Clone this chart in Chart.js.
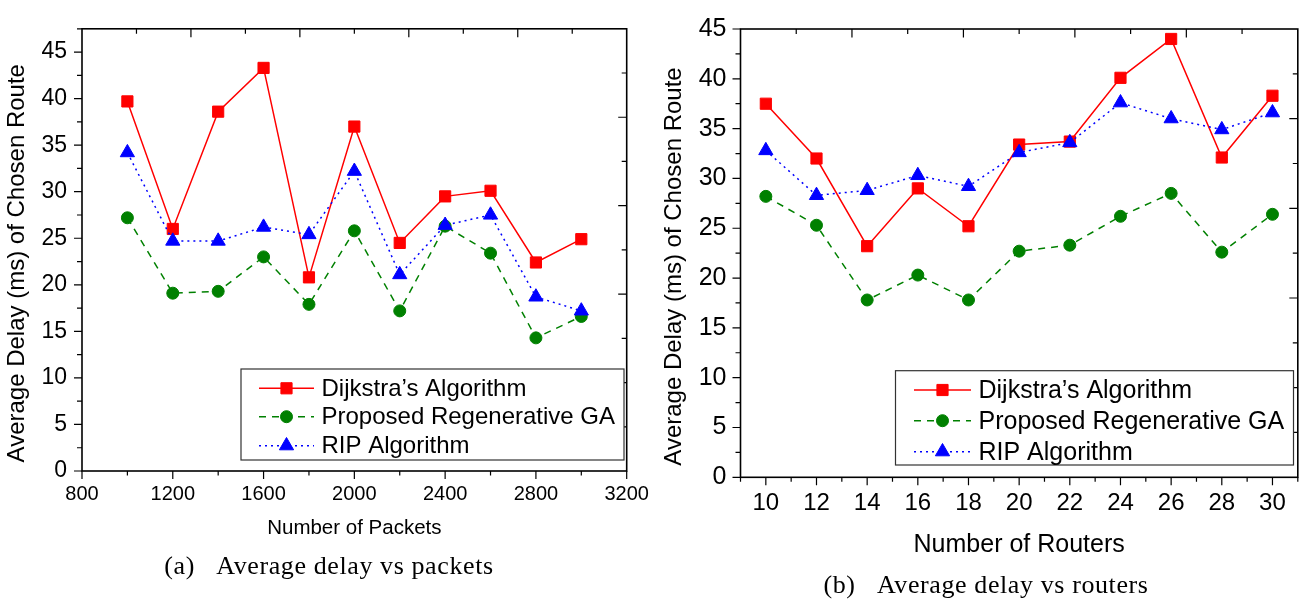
<!DOCTYPE html>
<html>
<head>
<meta charset="utf-8">
<script src="https://cdn.jsdelivr.net/npm/chart.js@4.4.0/dist/chart.umd.min.js"></script>
<style>
  body { margin: 0; background: #fff; width: 1307px; height: 600px; position: relative; overflow: hidden; }
  canvas { position: absolute; top: 0; }
  #chartA { left: 0; }
  #chartB { left: 650px; }
  .caption { position: absolute; font-family: "Liberation Serif", "DejaVu Serif", serif; font-size: 26px; color: #000;
             transform: translate(-50%, -50%); white-space: nowrap; letter-spacing: 0.6px; }
</style>
</head>
<body>
<canvas id="chartA" width="660" height="600"></canvas>
<canvas id="chartB" width="657" height="600"></canvas>
<div class="caption" style="left:329px; top:566px">(a)&nbsp;&nbsp;&nbsp;Average delay vs packets</div>
<div class="caption" style="left:986px; top:585px">(b)&nbsp;&nbsp;&nbsp;Average delay vs routers</div>
<script>
const seriesNames = ["Dijkstra\u2019s Algorithm", "Proposed Regenerative GA", "RIP Algorithm"];
const seriesColors = ["#ff0000", "#008000", "#0000ff"];

// (a) delay vs number of packets
const packets = [1000, 1200, 1400, 1600, 1800, 2000, 2200, 2400, 2600, 2800, 3000];
const packetsDijkstra = [39.7, 26.0, 38.6, 43.3, 20.8, 37.0, 24.5, 29.5, 30.1, 22.4, 24.9];
const packetsGA = [27.2, 19.1, 19.3, 23.0, 17.9, 25.8, 17.2, 26.3, 23.4, 14.3, 16.6];
const packetsRIP = [34.2, 24.7, 24.7, 26.2, 25.4, 32.2, 21.1, 26.4, 27.5, 18.7, 17.2];
const packetTicks = [800, 1200, 1600, 2000, 2400, 2800, 3200];

// (b) delay vs number of routers
const routers = [10, 12, 14, 16, 18, 20, 22, 24, 26, 28, 30];
const routersDijkstra = [37.5, 32.0, 23.2, 29.0, 25.2, 33.4, 33.7, 40.1, 44.0, 32.1, 38.3];
const routersGA = [28.2, 25.3, 17.8, 20.3, 17.8, 22.7, 23.3, 26.2, 28.5, 22.6, 26.4];
const routersRIP = [32.8, 28.3, 28.8, 30.3, 29.2, 32.6, 33.6, 37.6, 36.0, 34.9, 36.6];
const routerTicks = [10, 12, 14, 16, 18, 20, 22, 24, 26, 28, 30];

const delayTicks = [0, 5, 10, 15, 20, 25, 30, 35, 40, 45];
const yTitle = "Average Delay (ms) of Chosen Route";

Chart.defaults.font.family = "'Liberation Sans', Arial, sans-serif";
Chart.defaults.color = "#000";

const shapes = ["rect", "circle", "triangle"];
const dashes = [[], [7, 6], [2, 4]];
const radii = [7.9, 6, 8.2];

function makeDatasets(xs, ys) {
    return ys.map((vals, i) => ({
        label: seriesNames[i],
        data: xs.map((x, j) => ({ x: x, y: vals[j] })),
        borderColor: seriesColors[i],
        backgroundColor: seriesColors[i],
        borderWidth: 1.5,
        borderDash: dashes[i],
        pointStyle: shapes[i],
        pointRadius: radii[i],
        pointBorderWidth: 1,
        order: 3 - i
    }));
}

function drawMarker(ctx, style, x, y, r) {
    ctx.beginPath();
    if (style === "rect") {
        const s = r * Math.SQRT1_2;
        ctx.rect(x - s, y - s, 2 * s, 2 * s);
    } else if (style === "circle") {
        ctx.arc(x, y, r, 0, Math.PI * 2);
    } else {
        ctx.moveTo(x, y - r);
        ctx.lineTo(x + r * 0.866, y + r * 0.5);
        ctx.lineTo(x - r * 0.866, y + r * 0.5);
        ctx.closePath();
    }
    ctx.fill();
    ctx.stroke();
}

// minor ticks halfway between the labelled ones
function minorOf(major, min, max) {
    const out = [];
    const step = major[1] - major[0];
    [major[0] - step].concat(major).forEach(v => {
        const m = v + step / 2;
        if (m >= min && m <= max) out.push(m);
    });
    return out;
}

// box round the plot: outer ticks left/bottom, inner ticks top/right
const framePlugin = {
    id: "frame",
    afterDraw(chart) {
        const { ctx, chartArea: a, scales: { x, y } } = chart;
        ctx.save();
        ctx.strokeStyle = "#000";
        ctx.lineWidth = 1.2;
        ctx.beginPath();
        const yMaj = y.ticks.map(t => t.value);
        const xMaj = x.ticks.map(t => t.value);
        yMaj.forEach(v => { const p = y.getPixelForValue(v); ctx.moveTo(a.left - 8, p); ctx.lineTo(a.left, p); });
        minorOf(yMaj, y.min, y.max).forEach(v => { const p = y.getPixelForValue(v); ctx.moveTo(a.left - 5, p); ctx.lineTo(a.left, p); });
        xMaj.forEach(v => { const p = x.getPixelForValue(v); ctx.moveTo(p, a.bottom); ctx.lineTo(p, a.bottom + 8); });
        minorOf(xMaj, x.min, x.max).forEach(v => { const p = x.getPixelForValue(v); ctx.moveTo(p, a.bottom); ctx.lineTo(p, a.bottom + 4.5); });
        for (let i = 1; i < 10; i++) {
            const len = i % 2 ? 5 : 8.5;
            const px = x.getPixelForValue(x.min + i * (x.max - x.min) / 10);
            ctx.moveTo(px, a.top); ctx.lineTo(px, a.top + len);
            const py = y.getPixelForValue(y.min + i * (y.max - y.min) / 10);
            ctx.moveTo(a.right, py); ctx.lineTo(a.right - len, py);
        }
        ctx.stroke();
        ctx.lineWidth = 1.6;
        ctx.strokeRect(a.left, a.top, a.right - a.left, a.bottom - a.top);
        ctx.restore();
    }
};

const legendPlugin = {
    id: "boxLegend",
    afterDraw(chart, args, o) {
        const ctx = chart.ctx;
        ctx.save();
        ctx.fillStyle = "#fff";
        ctx.fillRect(o.box[0], o.box[1], o.box[2], o.box[3]);
        ctx.strokeStyle = "#333";
        ctx.lineWidth = 1.2;
        ctx.strokeRect(o.box[0], o.box[1], o.box[2], o.box[3]);
        chart.data.datasets.forEach((ds, i) => {
            const yy = o.rows[i];
            ctx.strokeStyle = ds.borderColor;
            ctx.fillStyle = ds.backgroundColor;
            ctx.lineWidth = ds.borderWidth;
            ctx.setLineDash(ds.borderDash);
            ctx.beginPath();
            ctx.moveTo(o.line[0], yy);
            ctx.lineTo(o.line[1], yy);
            ctx.stroke();
            ctx.setLineDash([]);
            ctx.lineWidth = 1;
            drawMarker(ctx, ds.pointStyle, (o.line[0] + o.line[1]) / 2, yy, ds.pointRadius);
            ctx.fillStyle = "#000";
            ctx.font = o.fontSize + "px 'Liberation Sans', Arial, sans-serif";
            ctx.textBaseline = "middle";
            ctx.fillText(ds.label, o.textX, yy + 1);
        });
        ctx.restore();
    }
};

function buildChart(id, xs, ys, xTicks, look) {
    return new Chart(document.getElementById(id), {
        type: "line",
        data: { datasets: makeDatasets(xs, ys) },
        plugins: [framePlugin, legendPlugin],
        options: {
            responsive: false,
            animation: false,
            devicePixelRatio: 1,
            layout: { padding: look.padding },
            plugins: {
                legend: { display: false },
                tooltip: { enabled: false },
                boxLegend: look.legend
            },
            scales: {
                x: {
                    type: "linear",
                    min: look.xRange[0],
                    max: look.xRange[1],
                    afterBuildTicks: s => { s.ticks = xTicks.map(v => ({ value: v })); },
                    afterFit: s => { s.height = look.xHeight; },
                    grid: { display: false, drawTicks: false },
                    border: { display: false },
                    ticks: { autoSkip: false, maxRotation: 0, padding: look.xTickPad,
                             font: { size: look.xTickSize }, callback: v => String(v) },
                    title: { display: true, text: look.xTitle, font: { size: look.xTitleSize },
                             padding: { top: 0, bottom: look.xTitlePad } }
                },
                y: {
                    min: 0,
                    max: look.yMax,
                    afterBuildTicks: s => { s.ticks = delayTicks.map(v => ({ value: v })); },
                    afterFit: s => { s.width = look.yWidth; },
                    grid: { display: false, drawTicks: false },
                    border: { display: false },
                    ticks: { padding: look.yTickPad, font: { size: look.yTickSize }, callback: v => String(v) },
                    title: { display: true, text: yTitle + "    ", font: { size: 24 },
                             padding: { top: look.yTitlePad, bottom: 0 } }
                }
            }
        }
    });
}

buildChart("chartA", packets, [packetsDijkstra, packetsGA, packetsRIP], packetTicks, {
    padding: { left: 0, top: 27, right: 33.3, bottom: 0 },
    xRange: [800, 3200], yMax: 47.5,
    yWidth: 82, xHeight: 129,
    xTickSize: 20, yTickSize: 23, xTickPad: 11, yTickPad: 15,
    xTitle: "Number of Packets", xTitleSize: 20.5, xTitlePad: 59.7, yTitlePad: 3,
    legend: { box: [241, 369, 383, 91], rows: [388.3, 416.7, 445.7], line: [259, 314], textX: 321.5, fontSize: 24 }
});

buildChart("chartB", routers, [routersDijkstra, routersGA, routersRIP], routerTicks, {
    padding: { left: 0, top: 19, right: 2, bottom: 0 },
    xRange: [9, 31], yMax: 45,
    yWidth: 90.5, xHeight: 122.7,
    xTickSize: 24, yTickSize: 25, xTickPad: 12, yTickPad: 14,
    xTitle: "Number of Routers", xTitleSize: 25, xTitlePad: 40, yTitlePad: 9.9,
    legend: { box: [245.5, 370.7, 398, 94.3], rows: [390, 420.7, 451.7], line: [264, 321], textX: 328.5, fontSize: 25 }
});
</script>
</body>
</html>
